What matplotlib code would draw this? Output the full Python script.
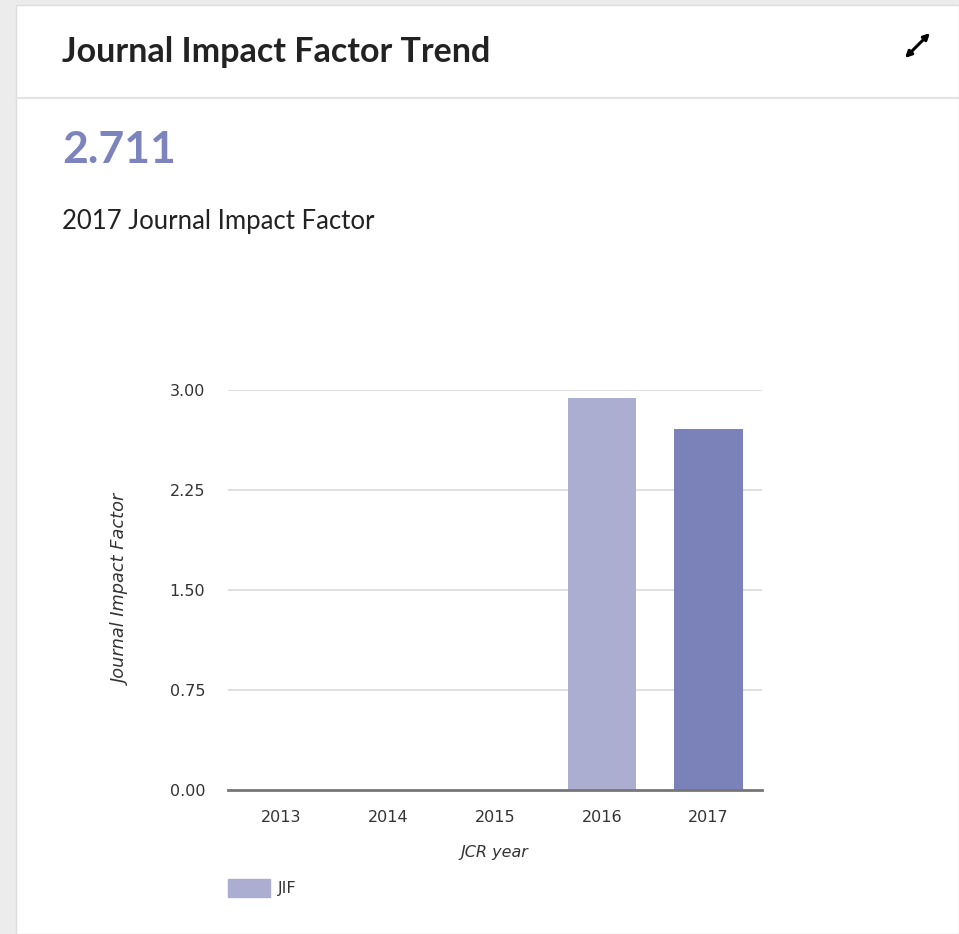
import matplotlib.pyplot as plt
from matplotlib.patches import Rectangle, Patch, FancyArrowPatch
from matplotlib.lines import Line2D

years = ['2013', '2014', '2015', '2016', '2017']
jif = [0, 0, 0, 2.94, 2.711]
bar_colors = ['#abaed1', '#abaed1', '#abaed1', '#abaed1', '#7a82b9']
yticks = [0, 0.75, 1.5, 2.25, 3.0]

W, H = 959, 934
fig = plt.figure(figsize=(W / 100, H / 100), dpi=100)
fig.patch.set_facecolor('#ececec')

# card background
card = Rectangle((16 / W, 0), 1 - 16 / W, 1 - 5 / H, transform=fig.transFigure,
                 facecolor='white', edgecolor='#dddddd', linewidth=1, zorder=-5)
fig.patches.append(card)
fig.add_artist(Line2D([16 / W, 1], [1 - 98 / H, 1 - 98 / H], transform=fig.transFigure,
                      color='#e3e3e3', linewidth=1.5))

fig.text(62 / W, 1 - 52 / H, 'Journal Impact Factor Trend', fontsize=24.5, fontweight='bold',
         family='Lato', color='#222222', va='center', ha='left')
fig.text(62 / W, 1 - 150 / H, '2.711', fontsize=32, fontweight='bold',
         family='Lato', color='#7d84bd', va='center', ha='left')
fig.text(62 / W, 1 - 221 / H, '2017 Journal Impact Factor', fontsize=18.5,
         family='Lato', color='#222222', va='center', ha='left')

# expand icon
fig.add_artist(FancyArrowPatch((905 / W, 1 - 58 / H), (930 / W, 1 - 33 / H),
                               transform=fig.transFigure, arrowstyle='<|-|>',
                               mutation_scale=9, linewidth=2.2, color='black',
                               shrinkA=0, shrinkB=0))

ax = fig.add_axes([228 / W, 144 / H, 534 / W, 400 / H])
ax.set_facecolor('none')
x = range(len(years))
ax.bar(x, jif, width=0.64, color=bar_colors, zorder=2)
ax.set_xlim(-0.5, len(years) - 0.5)
ax.set_ylim(0, 3.0)
ax.set_yticks(yticks)
ax.set_yticklabels([f'{v:.2f}' for v in yticks])
ax.set_xticks(list(x))
ax.set_xticklabels(years)
ax.tick_params(axis='both', length=0, labelsize=11.5, labelcolor='#333333', labelfontfamily='DejaVu Sans')
ax.tick_params(axis='y', pad=16.5)
ax.tick_params(axis='x', pad=14.5)
ax.grid(axis='y', color='#dcdcdc', linewidth=1.3, zorder=0)
for s in ['top', 'right', 'left']:
    ax.spines[s].set_visible(False)
ax.spines['bottom'].set_color('#777777')
ax.spines['bottom'].set_linewidth(2)
ax.spines['bottom'].set_zorder(3)
ax.set_ylabel('Journal Impact Factor', fontsize=12.8, style='italic', family='DejaVu Sans',
              color='#333333', labelpad=28)
ax.set_xlabel('JCR year', fontsize=11.5, style='italic', family='DejaVu Sans', color='#333333', labelpad=14)

ax.legend(handles=[Patch(color='#abaed1', label='JIF')], loc='upper left',
          bbox_to_anchor=(0, -0.222), frameon=False, borderpad=0, borderaxespad=0,
          handlelength=2.6, handleheight=1.4, handletextpad=0.5,
          prop={'family': 'DejaVu Sans', 'size': 11.5}, labelcolor='#333333')

fig.savefig('out.png', dpi=100)
